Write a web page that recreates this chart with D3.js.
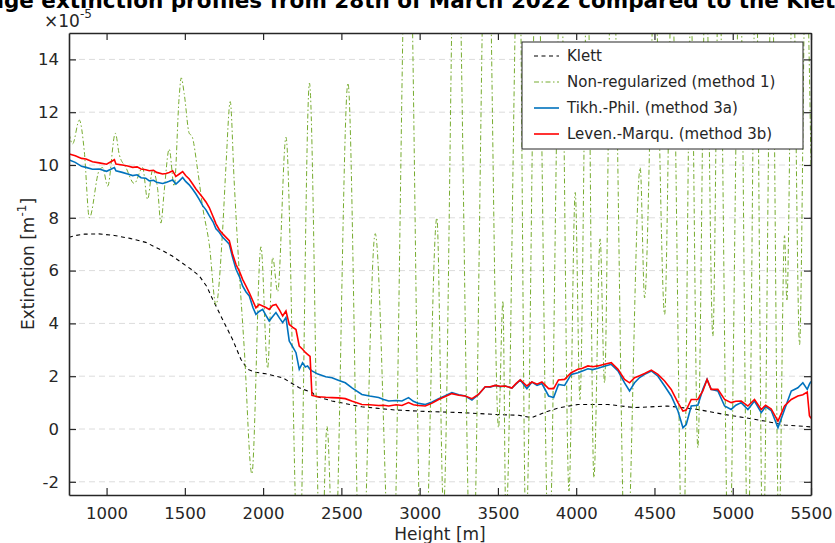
<!DOCTYPE html>
<html>
<head>
<meta charset="utf-8">
<script src="https://cdn.jsdelivr.net/npm/d3@7"></script>
<style>
  body { margin: 0; background: #fff; }
  svg text { font-family: "DejaVu Sans", sans-serif; fill: #262626; }
</style>
</head>
<body>
<div id="chart"></div>
<script>
// ---- data (extinction in units of 1e-5 m^-1) ----
const klettHeights = [760, 800, 860, 950, 1050, 1150, 1250, 1360, 1420, 1490, 1540, 1592, 1640, 1678, 1741, 1805, 1858, 1901, 1950, 2018, 2125, 2231, 2316, 2333, 2440, 2631, 2844, 3057, 3270, 3483, 3632, 3717, 3802, 3887, 4011, 4203, 4373, 4586, 4777, 4948, 5076, 5203, 5331, 5500];
const klettValues = [7.26, 7.33, 7.38, 7.39, 7.33, 7.22, 7.07, 6.75, 6.55, 6.26, 6.05, 5.8, 5.4, 4.91, 4.15, 3.39, 2.64, 2.26, 2.15, 2.09, 1.94, 1.56, 1.37, 1.25, 1.06, 0.84, 0.72, 0.66, 0.62, 0.55, 0.52, 0.43, 0.64, 0.8, 0.93, 0.93, 0.81, 0.87, 0.74, 0.55, 0.43, 0.3, 0.15, 0.08];

const nonRegHeights = [760, 783, 826, 858, 890, 953, 975, 1007, 1056, 1081, 1124, 1177, 1230, 1262, 1294, 1326, 1347, 1368, 1400, 1432, 1464, 1477, 1496, 1528, 1545, 1582, 1614, 1656, 1699, 1741, 1763, 1790, 1815, 1837, 1880, 1928, 1986, 2029, 2061, 2093, 2146, 2229, 2296, 2370, 2408, 2453, 2542, 2625, 2716, 2823, 2925, 3021, 3110, 3152, 3232, 3334, 3430, 3504, 3532, 3551, 3634, 3679, 3749, 3826, 3902, 3954, 3994, 4024, 4072, 4113, 4153, 4181, 4228, 4318, 4409, 4437, 4502, 4565, 4611, 4682, 4733, 4777, 4828, 4873, 4912, 4975, 5046, 5097, 5148, 5193, 5250, 5295, 5331, 5346, 5384, 5427, 5467, 5500];
const nonRegValues = [11.2, 10.8, 11.7, 10.5, 8.0, 9.8, 9.9, 9.2, 11.2, 10.4, 9.9, 9.3, 9.9, 8.7, 9.8, 9.1, 7.8, 9.0, 10.6, 9.2, 12.6, 13.3, 12.7, 11.2, 11.1, 9.8, 8.4, 7.0, 4.7, 7.5, 10.0, 12.4, 9.4, 7.0, 3.0, -1.7, 6.9, 2.3, 6.5, 5.2, 11.05, -6, 13.1, -6, 0.1, -6, 13.1, -7, 7.4, -7, 22, -8, 8.0, -3.0, 22, -7, 22, 0.05, 4.85, -3.5, 20, -4, 20, -5, 18, -2.35, 8.96, 1.12, 18, -1.85, 7.2, 1.75, 20, -6, 9.9, 4.97, 17, 4.34, 17, -6, 16, -0.71, 18, 3.52, 18, -6, 18, -5, 18, -5, 18, -4, 7.32, 4.85, 18, 3.2, 18, 10];

const invHeights = [762, 800, 840, 869, 910, 953, 1000, 1050, 1060, 1100, 1135, 1167, 1195, 1220, 1250, 1273, 1300, 1320, 1358, 1380, 1400, 1422, 1443, 1465, 1486, 1505, 1528, 1550, 1571, 1590, 1614, 1635, 1656, 1680, 1699, 1720, 1742, 1765, 1784, 1805, 1827, 1850, 1869, 1890, 1912, 1935, 1954, 1975, 1997, 2018, 2039, 2060, 2082, 2105, 2125, 2146, 2167, 2190, 2210, 2231, 2252, 2270, 2284, 2300, 2312, 2350, 2400, 2440, 2480, 2525, 2570, 2631, 2680, 2738, 2770, 2802, 2850, 2887, 2929, 2960, 2993, 3036, 3080, 3121, 3160, 3206, 3250, 3291, 3334, 3376, 3419, 3450, 3483, 3515, 3547, 3589, 3615, 3643, 3685, 3717, 3750, 3781, 3824, 3856, 3887, 3926, 3968, 4011, 4040, 4075, 4105, 4139, 4180, 4224, 4267, 4309, 4341, 4373, 4405, 4437, 4480, 4522, 4565, 4607, 4650, 4682, 4703, 4735, 4777, 4809, 4836, 4862, 4905, 4948, 4990, 5020, 5054, 5097, 5139, 5182, 5210, 5246, 5289, 5331, 5374, 5416, 5448, 5476, 5490, 5500];
const tikhValues = [10.19, 10.1, 9.95, 9.91, 9.84, 9.85, 9.76, 9.9, 9.78, 9.72, 9.66, 9.6, 9.63, 9.52, 9.5, 9.4, 9.42, 9.35, 9.3, 9.34, 9.38, 9.43, 9.28, 9.4, 9.53, 9.38, 9.25, 9.08, 8.9, 8.72, 8.46, 8.3, 8.08, 7.85, 7.58, 7.45, 7.26, 7.12, 7.0, 6.5, 6.05, 5.75, 5.42, 5.2, 5.04, 4.6, 4.34, 4.45, 4.53, 4.3, 4.09, 4.25, 4.41, 4.2, 4.03, 4.22, 3.33, 3.1, 2.89, 2.26, 2.51, 2.35, 2.39, 2.26, 2.2, 2.08, 1.98, 1.94, 1.85, 1.75, 1.55, 1.31, 1.25, 1.19, 1.12, 1.06, 1.08, 1.06, 1.19, 1.05, 0.97, 0.93, 1.02, 1.15, 1.25, 1.38, 1.3, 1.25, 1.1, 1.31, 1.6, 1.58, 1.65, 1.6, 1.63, 1.55, 1.7, 1.86, 1.53, 1.78, 1.65, 1.72, 1.25, 1.19, 1.69, 1.65, 2.07, 2.13, 2.2, 2.28, 2.25, 2.3, 2.38, 2.45, 2.2, 1.75, 1.44, 1.75, 1.95, 2.07, 2.2, 2.0, 1.63, 1.25, 0.68, 0.05, 0.17, 0.87, 0.9, 1.5, 1.88, 1.5, 1.44, 0.87, 0.74, 0.9, 1.0, 0.74, 1.06, 0.62, 0.85, 0.7, 0.05, 0.74, 1.44, 1.56, 1.75, 1.5, 1.7, 1.8];
const levenValues = [10.42, 10.35, 10.25, 10.23, 10.12, 10.08, 10.03, 10.2, 10.04, 10.0, 9.96, 9.91, 9.93, 9.85, 9.82, 9.78, 9.8, 9.72, 9.66, 9.68, 9.72, 9.78, 9.57, 9.66, 9.75, 9.6, 9.47, 9.28, 9.09, 8.95, 8.77, 8.6, 8.39, 8.05, 7.77, 7.55, 7.39, 7.25, 7.13, 6.63, 6.23, 5.95, 5.67, 5.42, 5.16, 4.85, 4.59, 4.72, 4.66, 4.6, 4.53, 4.68, 4.72, 4.5, 4.28, 4.47, 3.96, 3.85, 3.77, 3.14, 3.02, 2.9, 2.83, 2.75, 1.27, 1.22, 1.2, 1.19, 1.18, 1.15, 1.05, 0.93, 0.92, 0.89, 0.9, 0.87, 0.92, 0.89, 1.0, 0.92, 0.89, 0.87, 0.98, 1.12, 1.22, 1.34, 1.28, 1.25, 1.15, 1.31, 1.6, 1.6, 1.65, 1.62, 1.63, 1.55, 1.72, 1.86, 1.63, 1.78, 1.7, 1.78, 1.53, 1.53, 1.86, 1.88, 2.13, 2.26, 2.3, 2.39, 2.36, 2.39, 2.45, 2.51, 2.26, 1.88, 1.75, 1.94, 2.02, 2.1, 2.23, 2.07, 1.82, 1.5, 1.0, 0.68, 0.72, 1.12, 1.12, 1.44, 1.88, 1.5, 1.5, 1.12, 1.0, 1.05, 1.06, 0.87, 1.12, 0.74, 0.9, 0.76, 0.3, 0.87, 1.12, 1.25, 1.3, 1.4, 0.5, 0.4];

const xTicks = [1000, 1500, 2000, 2500, 3000, 3500, 4000, 4500, 5000, 5500];
const yTicks = [-2, 0, 2, 4, 6, 8, 10, 12, 14];
const legendLabels = ["Klett", "Non-regularized (method 1)", "Tikh.-Phil. (method 3a)", "Leven.-Marqu. (method 3b)"];

// ---- layout ----
const width = 835, height = 543;
const margin = { top: 33, right: 24, bottom: 48, left: 69 };
const axisColor = "#262626";

const svg = d3.select("#chart").append("svg")
  .attr("width", width).attr("height", height);

const x = d3.scaleLinear().domain([760, 5500]).range([margin.left, width - margin.right]);
const y = d3.scaleLinear().domain([-2.5, 15]).range([height - margin.bottom, margin.top]);

svg.append("defs").append("clipPath").attr("id", "plotclip")
  .append("rect")
  .attr("x", margin.left).attr("y", margin.top)
  .attr("width", x.range()[1] - x.range()[0])
  .attr("height", y.range()[0] - y.range()[1]);

// horizontal grid
svg.append("g").selectAll("line").data(yTicks).join("line")
  .attr("x1", margin.left).attr("x2", width - margin.right)
  .attr("y1", d => y(d)).attr("y2", d => y(d))
  .attr("stroke", "#dcdcdc").attr("stroke-width", 1)
  .attr("stroke-dasharray", "6,4");

// series
const series = [
  { h: klettHeights, v: klettValues, color: "#000000", w: 1.1, dash: "4,3.5", curve: d3.curveLinear },
  { h: nonRegHeights, v: nonRegValues, color: "#77AC30", w: 1, dash: "5,2.5,1.5,2.5", curve: d3.curveMonotoneX },
  { h: invHeights, v: tikhValues, color: "#0072BD", w: 1.6, dash: null, curve: d3.curveLinear },
  { h: invHeights, v: levenValues, color: "#FF0000", w: 1.6, dash: null, curve: d3.curveLinear }
];

const plot = svg.append("g").attr("clip-path", "url(#plotclip)");
series.forEach(s => {
  const line = d3.line()
    .x(i => x(s.h[i]))
    .y(i => y(s.v[i]))
    .curve(s.curve);
  plot.append("path")
    .attr("d", line(d3.range(s.h.length)))
    .attr("fill", "none")
    .attr("stroke", s.color)
    .attr("stroke-width", s.w)
    .attr("stroke-dasharray", s.dash);
});

// axes (box with inward ticks)
const tickLen = 7;
const fmt = d => String(d);
const xb = svg.append("g").attr("transform", `translate(0,${height - margin.bottom})`)
  .call(d3.axisBottom(x).tickValues(xTicks).tickFormat(fmt).tickSizeInner(-tickLen).tickSizeOuter(0).tickPadding(12));
const xt = svg.append("g").attr("transform", `translate(0,${margin.top})`)
  .call(d3.axisTop(x).tickValues(xTicks).tickSizeInner(-tickLen).tickSizeOuter(0).tickFormat(""));
const yl = svg.append("g").attr("transform", `translate(${margin.left},0)`)
  .call(d3.axisLeft(y).tickValues(yTicks).tickFormat(fmt).tickSizeInner(-tickLen).tickSizeOuter(0).tickPadding(10));
const yr = svg.append("g").attr("transform", `translate(${width - margin.right},0)`)
  .call(d3.axisRight(y).tickValues(yTicks).tickSizeInner(-tickLen).tickSizeOuter(0).tickFormat(""));

[xb, xt, yl, yr].forEach(g => {
  g.select(".domain").attr("stroke", axisColor).attr("stroke-width", 1.6);
  g.selectAll(".tick line").attr("stroke", axisColor).attr("stroke-width", 1.2);
  g.selectAll(".tick text").attr("font-size", 16.5).attr("fill", axisColor)
    .attr("font-family", "DejaVu Sans, sans-serif");
});
xb.selectAll(".tick text").attr("dy", "0.71em");

// title (clipped at top like the original)
svg.append("text")
  .attr("x", (margin.left + width - margin.right) / 2).attr("y", 8)
  .attr("text-anchor", "middle")
  .attr("font-size", 21.5).attr("font-weight", "bold")
  .style("fill", "#000")
  .text("Average extinction profiles from 28th of March 2022 compared to the Klett method");

// exponent label
const ex = svg.append("text").attr("x", 44).attr("y", 27).attr("font-size", 17);
ex.append("tspan").text("\u00d710");
ex.append("tspan").attr("font-size", 12).attr("dy", -9).text("-5");

// axis labels
svg.append("text")
  .attr("x", (margin.left + width - margin.right) / 2).attr("y", 540)
  .attr("text-anchor", "middle").attr("font-size", 17)
  .text("Height [m]");

const yLab = svg.append("text")
  .attr("transform", `translate(34,${(margin.top + height - margin.bottom) / 2}) rotate(-90)`)
  .attr("text-anchor", "middle").attr("font-size", 17);
yLab.append("tspan").text("Extinction [m");
yLab.append("tspan").attr("font-size", 12).attr("dy", -8).text("-1");
yLab.append("tspan").attr("dy", 8).text("]");

// legend
const lg = svg.append("g").attr("transform", "translate(522,42)");
lg.append("rect").attr("width", 281).attr("height", 107)
  .attr("fill", "#fff").attr("stroke", axisColor).attr("stroke-width", 1);
legendLabels.forEach((lab, i) => {
  const s = series[i];
  const yy = 14 + i * 26;
  lg.append("line").attr("x1", 12).attr("x2", 37).attr("y1", yy).attr("y2", yy)
    .attr("stroke", s.color).attr("stroke-width", s.w)
    .attr("stroke-dasharray", s.dash);
  lg.append("text").attr("x", 45).attr("y", yy).attr("dy", "0.35em")
    .attr("font-size", 15).text(lab);
});
</script>
</body>
</html>
